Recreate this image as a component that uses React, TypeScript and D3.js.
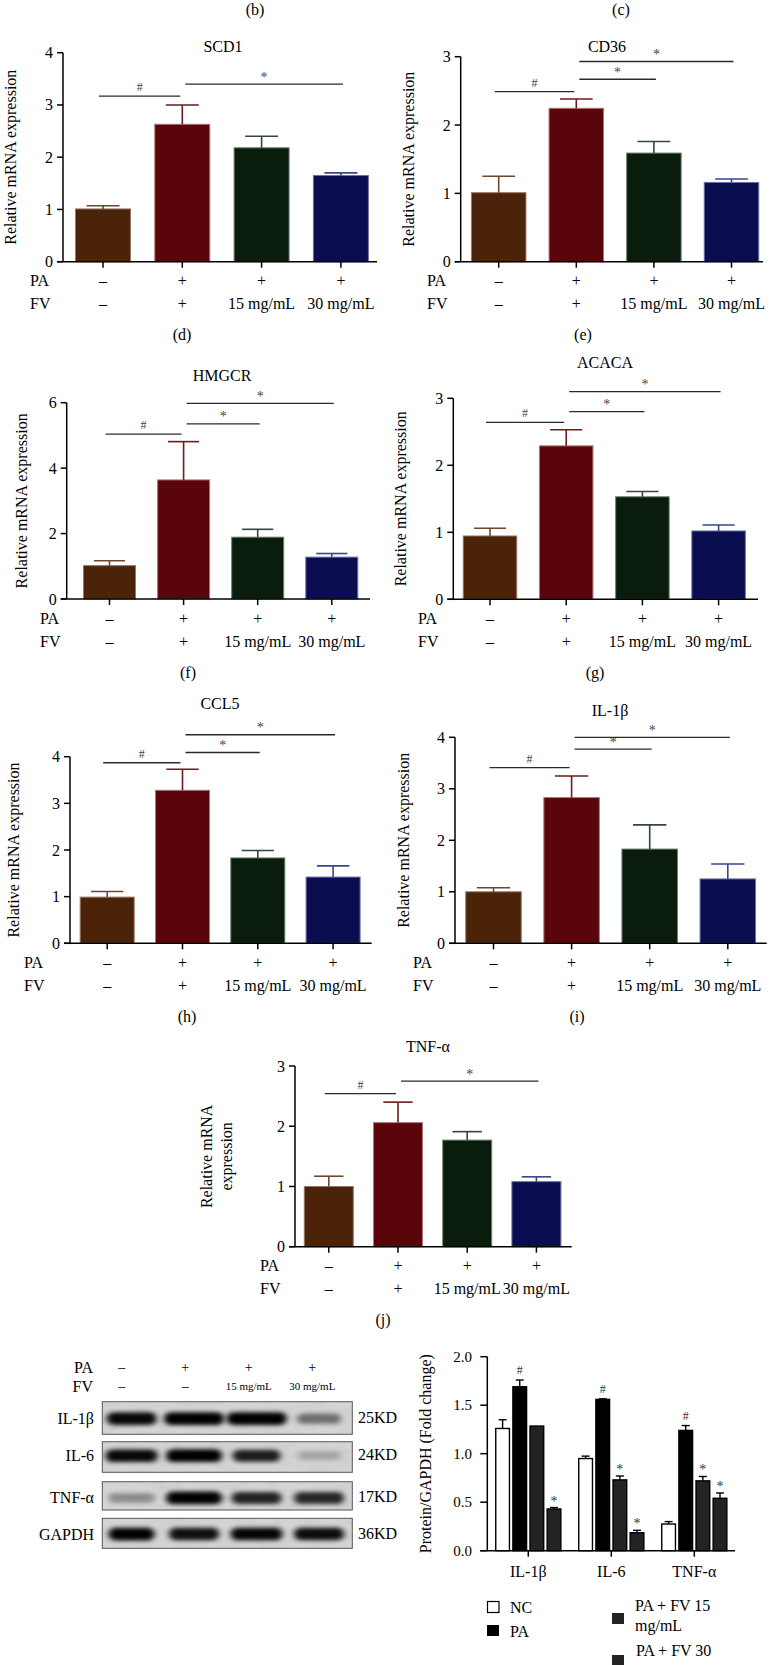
import React from 'react';
import * as d3 from 'd3';

const FONT = '"Liberation Serif", "Times New Roman", Times, serif';

// ---------- mRNA data ----------
const groups = ['NC', 'PA', 'PA+FV15', 'PA+FV30'];
const paRow = ['–', '+', '+', '+'];
const fvRow = ['–', '+', '15 mg/mL', '30 mg/mL'];

const scd1Mean = [1.01, 2.63, 2.18, 1.65];
const scd1Sem = [0.06, 0.37, 0.22, 0.05];
const cd36Mean = [1.01, 2.245, 1.59, 1.16];
const cd36Sem = [0.24, 0.135, 0.17, 0.05];
const hmgcrMean = [1.02, 3.64, 1.89, 1.28];
const hmgcrSem = [0.15, 1.17, 0.24, 0.11];
const acacaMean = [0.945, 2.29, 1.53, 1.02];
const acacaSem = [0.115, 0.24, 0.08, 0.09];
const ccl5Mean = [0.99, 3.28, 1.83, 1.42];
const ccl5Sem = [0.12, 0.45, 0.16, 0.24];
const il1bMean = [1.0, 2.83, 1.83, 1.25];
const il1bSem = [0.08, 0.42, 0.47, 0.29];
const tnfMean = [1.0, 2.06, 1.77, 1.08];
const tnfSem = [0.17, 0.34, 0.14, 0.08];

type Sig = { from: number; to: number; y: number; label: string };
const scd1Sig: Sig[] = [{ from: 0, to: 1, y: 3.17, label: '#' }, { from: 1, to: 3, y: 3.4, label: '*' }];
const cd36Sig: Sig[] = [{ from: 0, to: 1, y: 2.49, label: '#' }, { from: 1, to: 2, y: 2.67, label: '*' }, { from: 1, to: 3, y: 2.93, label: '*' }];
const hmgcrSig: Sig[] = [{ from: 0, to: 1, y: 5.04, label: '#' }, { from: 1, to: 2, y: 5.35, label: '*' }, { from: 1, to: 3, y: 5.98, label: '*' }];
const acacaSig: Sig[] = [{ from: 0, to: 1, y: 2.64, label: '#' }, { from: 1, to: 2, y: 2.8, label: '*' }, { from: 1, to: 3, y: 3.1, label: '*' }];
const ccl5Sig: Sig[] = [{ from: 0, to: 1, y: 3.87, label: '#' }, { from: 1, to: 2, y: 4.09, label: '*' }, { from: 1, to: 3, y: 4.47, label: '*' }];
const il1bSig: Sig[] = [{ from: 0, to: 1, y: 3.41, label: '#' }, { from: 1, to: 2, y: 3.77, label: '*' }, { from: 1, to: 3, y: 4.0, label: '*' }];
const tnfSig: Sig[] = [{ from: 0, to: 1, y: 2.54, label: '#' }, { from: 1, to: 3, y: 2.75, label: '*' }];

// ---------- Western blot data ----------
const wbProteins = ['IL-1β', 'IL-6', 'TNF-α', 'GAPDH'];
const wbSizes = ['25KD', '24KD', '17KD', '36KD'];
const wbLanePA = ['–', '+', '+', '+'];
const wbLaneFV = ['–', '–', '15 mg/mL', '30 mg/mL'];
const wbIntensity = [
  [0.92, 0.97, 0.95, 0.45],
  [0.92, 0.95, 0.82, 0.2],
  [0.32, 0.95, 0.8, 0.78],
  [0.95, 0.88, 0.93, 0.9],
];
const wbWidth = [
  [50, 60, 60, 44],
  [52, 56, 48, 42],
  [46, 56, 50, 50],
  [46, 50, 52, 50],
];

// ---------- Protein quantification ----------
const protCats = ['IL-1β', 'IL-6', 'TNF-α'];
const protSeries = ['NC', 'PA', 'PA + FV 15 mg/mL', 'PA + FV 30 mg/mL'];
const ncVals = [1.26, 0.95, 0.275];
const ncErr = [0.09, 0.025, 0.025];
const paVals = [1.69, 1.56, 1.24];
const paErr = [0.07, 0.006, 0.05];
const fv15Vals = [1.285, 0.73, 0.72];
const fv15Err = [0, 0.04, 0.045];
const fv30Vals = [0.43, 0.185, 0.54];
const fv30Err = [0.015, 0.025, 0.055];
const ncMarks = ['', '', ''];
const paMarks = ['#', '#', '#'];
const fv15Marks = ['', '*', '*'];
const fv30Marks = ['*', '*', '*'];
const protTicks = [0, 0.5, 1.0, 1.5, 2.0];

// ---------- styles ----------
const barFills = ['#4a2309', '#590509', '#0a1d0c', '#0a0d50'];
const barStrokes = ['#9a7564', '#b0767a', '#6c7f6e', '#6d72a4'];
const errColors = ['#6f4630', '#6e1a1e', '#33463a', '#3a4590'];
const protFills = ['#ffffff', '#000000', '#232323', '#232323'];

type Layout = {
  titleX: number; titleY: number; axisX: number; axisEnd: number; yTop: number; yBottom: number;
  c1: number; step: number; bw: number; ylabelX: number[]; rowX: number; letterX: number;
};
type Panel = { letter: string; title: string; mean: number[]; sem: number[]; sigs: Sig[]; yMax: number; ticks: number[]; L: Layout };

const panels: Panel[] = [
  { letter: '(d)', title: 'SCD1', mean: scd1Mean, sem: scd1Sem, sigs: scd1Sig, yMax: 4, ticks: [0, 1, 2, 3, 4],
    L: { titleX: 223, titleY: 46, axisX: 63, axisEnd: 377, yTop: 52.7, yBottom: 261.7, c1: 103, step: 79.3, bw: 55, ylabelX: [10], rowX: 30, letterX: 182 } },
  { letter: '(e)', title: 'CD36', mean: cd36Mean, sem: cd36Sem, sigs: cd36Sig, yMax: 3, ticks: [0, 1, 2, 3],
    L: { titleX: 607, titleY: 46, axisX: 460.7, axisEnd: 763, yTop: 56.7, yBottom: 261.7, c1: 498.7, step: 77.6, bw: 54.5, ylabelX: [408], rowX: 427, letterX: 583 } },
  { letter: '(f)', title: 'HMGCR', mean: hmgcrMean, sem: hmgcrSem, sigs: hmgcrSig, yMax: 6, ticks: [0, 2, 4, 6],
    L: { titleX: 222, titleY: 375, axisX: 66.7, axisEnd: 370, yTop: 402.7, yBottom: 599, c1: 109.5, step: 74.1, bw: 52, ylabelX: [21.7], rowX: 40, letterX: 188 } },
  { letter: '(g)', title: 'ACACA', mean: acacaMean, sem: acacaSem, sigs: acacaSig, yMax: 3, ticks: [0, 1, 2, 3],
    L: { titleX: 605, titleY: 362.7, axisX: 453.3, axisEnd: 758, yTop: 398.3, yBottom: 599.3, c1: 490, step: 76.2, bw: 53.5, ylabelX: [400], rowX: 418, letterX: 595 } },
  { letter: '(h)', title: 'CCL5', mean: ccl5Mean, sem: ccl5Sem, sigs: ccl5Sig, yMax: 4, ticks: [0, 1, 2, 3, 4],
    L: { titleX: 220, titleY: 703, axisX: 70, axisEnd: 371.7, yTop: 756.7, yBottom: 943.3, c1: 107.2, step: 75.3, bw: 54, ylabelX: [13], rowX: 24, letterX: 187 } },
  { letter: '(i)', title: 'IL-1β', mean: il1bMean, sem: il1bSem, sigs: il1bSig, yMax: 4, ticks: [0, 1, 2, 3, 4],
    L: { titleX: 610, titleY: 710, axisX: 455, axisEnd: 766.7, yTop: 737.3, yBottom: 943.3, c1: 493.5, step: 78.1, bw: 55.5, ylabelX: [403], rowX: 413, letterX: 577 } },
  { letter: '(j)', title: 'TNF-α', mean: tnfMean, sem: tnfSem, sigs: tnfSig, yMax: 3, ticks: [0, 1, 2, 3],
    L: { titleX: 428, titleY: 1046.7, axisX: 295, axisEnd: 571.7, yTop: 1066, yBottom: 1246.7, c1: 328.8, step: 69.2, bw: 49, ylabelX: [206.7, 226.7], rowX: 260, letterX: 383 } },
];

function MrnaPanel({ p }: { p: Panel }) {
  const L = p.L;
  const y = d3.scaleLinear().domain([0, p.yMax]).range([L.yBottom, L.yTop]);
  const pad = 1 - L.bw / L.step;
  const x = d3.scaleBand<string>().domain(groups)
    .range([L.c1 - L.step / 2, L.c1 + 3.5 * L.step]).paddingInner(pad).paddingOuter(pad / 2);
  const cx = (i: number) => (x(groups[i]) as number) + x.bandwidth() / 2;
  const bw = x.bandwidth();
  const cap = bw * 0.6;
  const midY = (L.yTop + L.yBottom) / 2;
  const ylabLines = L.ylabelX.length === 1 ? ['Relative mRNA expression'] : ['Relative mRNA', 'expression'];
  return (
    <g fontFamily={FONT}>
      <text x={L.titleX} y={L.titleY} textAnchor="middle" dominantBaseline="central" fontSize={16}>{p.title}</text>
      {ylabLines.map((t, k) => (
        <text key={k} transform={`translate(${L.ylabelX[k]},${midY}) rotate(-90)`} textAnchor="middle" dominantBaseline="central" fontSize={16}>{t}</text>
      ))}
      {groups.map((g, i) => (
        <rect key={g} x={x(g)} y={y(p.mean[i])} width={bw} height={L.yBottom - y(p.mean[i])}
          fill={barFills[i]} stroke={barStrokes[i]} strokeWidth={1} />
      ))}
      {groups.map((g, i) => {
        const top = y(p.mean[i] + p.sem[i]);
        return (
          <g key={g} stroke={errColors[i]} strokeWidth={1.6}>
            <line x1={cx(i)} x2={cx(i)} y1={y(p.mean[i])} y2={top} />
            <line x1={cx(i) - cap / 2} x2={cx(i) + cap / 2} y1={top} y2={top} />
          </g>
        );
      })}
      <line x1={L.axisX} x2={L.axisX} y1={L.yBottom} y2={L.yTop} stroke="#000" strokeWidth={1.5} />
      <line x1={L.axisX - 6} x2={L.axisEnd} y1={L.yBottom} y2={L.yBottom} stroke="#000" strokeWidth={1.5} />
      {p.ticks.map((t) => (
        <g key={t}>
          <line x1={L.axisX - 6} x2={L.axisX} y1={y(t)} y2={y(t)} stroke="#000" strokeWidth={1.5} />
          <text x={L.axisX - 10} y={y(t)} textAnchor="end" dominantBaseline="central" fontSize={16}>{t}</text>
        </g>
      ))}
      {groups.map((g, i) => (
        <line key={g} x1={cx(i)} x2={cx(i)} y1={L.yBottom} y2={L.yBottom + 6} stroke="#000" strokeWidth={1.5} />
      ))}
      {p.sigs.map((s, k) => {
        const x1 = cx(s.from) - (s.from === 0 ? 4 : -3);
        const x2 = cx(s.to) + (s.to === 1 ? -2 : 2);
        const yy = y(s.y);
        return (
          <g key={k}>
            <line x1={x1} x2={x2} y1={yy} y2={yy} stroke="#2a2a2a" strokeWidth={1.3} />
            <text x={(x1 + x2) / 2} y={s.label === '#' ? yy - 5 : yy - 2.5} textAnchor="middle"
              fontSize={s.label === '#' ? 12 : 14} fill="#444">{s.label}</text>
          </g>
        );
      })}
      <text x={L.rowX} y={L.yBottom + 19} dominantBaseline="central" fontSize={16}>PA</text>
      <text x={L.rowX} y={L.yBottom + 42} dominantBaseline="central" fontSize={16}>FV</text>
      {groups.map((g, i) => (
        <g key={g}>
          <text x={cx(i)} y={L.yBottom + 19} textAnchor="middle" dominantBaseline="central" fontSize={16}>{paRow[i]}</text>
          <text x={cx(i)} y={L.yBottom + 42} textAnchor="middle" dominantBaseline="central" fontSize={16}>{fvRow[i]}</text>
        </g>
      ))}
      <text x={L.letterX} y={L.yBottom + 73} textAnchor="middle" dominantBaseline="central" fontSize={16}>{p.letter}</text>
    </g>
  );
}

function WesternBlot() {
  const boxX0 = 102.3, boxX1 = 352.3;
  const boxTop = [1401.7, 1441.7, 1481.7, 1518.3];
  const boxH = [32.6, 30.6, 28.3, 30];
  const bandDy = [0.6, -1.3, 2.1, 0.7];
  const lanes = d3.scaleBand<number>().domain([0, 1, 2, 3]).range([boxX0, boxX1]);
  const labelX = d3.scalePoint<number>().domain([0, 1, 2, 3]).range([121.7, 312.3]);
  return (
    <g fontFamily={FONT}>
      <defs>
        <filter id="bandBlur" x="-50%" y="-150%" width="200%" height="400%">
          <feGaussianBlur stdDeviation="3 2" />
        </filter>
        <filter id="noise" x="0" y="0" width="100%" height="100%">
          <feTurbulence type="fractalNoise" baseFrequency="0.06 0.12" numOctaves={2} seed={7} />
          <feColorMatrix type="saturate" values="0" />
        </filter>
        {boxTop.map((t, r) => (
          <clipPath id={`clip${r}`} key={r}>
            <rect x={boxX0} y={t} width={boxX1 - boxX0} height={boxH[r]} />
          </clipPath>
        ))}
      </defs>
      <text x={93} y={1367} textAnchor="end" dominantBaseline="central" fontSize={16}>PA</text>
      <text x={93} y={1386} textAnchor="end" dominantBaseline="central" fontSize={16}>FV</text>
      {wbLanePA.map((s, i) => (
        <text key={'pa' + i} x={labelX(i)} y={1367} textAnchor="middle" dominantBaseline="central" fontSize={14}>{s}</text>
      ))}
      {wbLaneFV.map((s, i) => (
        <text key={'fv' + i} x={labelX(i)} y={1386} textAnchor="middle" dominantBaseline="central" fontSize={s.length > 2 ? 11 : 14}>{s}</text>
      ))}
      {wbProteins.map((prot, r) => {
        const cy = boxTop[r] + boxH[r] / 2 + bandDy[r];
        return (
          <g key={prot}>
            <g clipPath={`url(#clip${r})`}>
              <rect x={boxX0} y={boxTop[r]} width={boxX1 - boxX0} height={boxH[r]} fill="#d5d5d5" />
              <rect x={boxX0} y={boxTop[r]} width={boxX1 - boxX0} height={boxH[r]} filter="url(#noise)" opacity={0.18} />
              {wbIntensity[r].map((v, i) => {
                const c = (lanes(i) as number) + lanes.bandwidth() / 2 - 2;
                const w = wbWidth[r][i];
                const h = 8 + 5 * v;
                return (
                  <rect key={i} x={c - w / 2} y={cy - h / 2} width={w} height={h} rx={h / 2}
                    fill="#050505" opacity={Math.min(1, v * 1.05)} filter="url(#bandBlur)" />
                );
              })}
            </g>
            <rect x={boxX0} y={boxTop[r]} width={boxX1 - boxX0} height={boxH[r]} fill="none" stroke="#555" strokeWidth={1} />
            <text x={94} y={cy} textAnchor="end" dominantBaseline="central" fontSize={16}>{prot}</text>
            <text x={358} y={cy - 1} dominantBaseline="central" fontSize={16}>{wbSizes[r]}</text>
          </g>
        );
      })}
    </g>
  );
}

function ProteinChart() {
  const axisX = 487.3, axisEnd = 735, yTop = 1356.7, yBottom = 1550.7;
  const y = d3.scaleLinear().domain([0, 2]).range([yBottom, yTop]);
  const x0 = d3.scaleBand<string>().domain(protCats).range([486.8, 735.8]).paddingInner(0.133).paddingOuter(0.0665);
  const x1 = d3.scaleBand<string>().domain(protSeries).range([0, x0.bandwidth()]).padding(0.2);
  const vals = [ncVals, paVals, fv15Vals, fv30Vals];
  const errs = [ncErr, paErr, fv15Err, fv30Err];
  const marks = [ncMarks, paMarks, fv15Marks, fv30Marks];
  const bw = x1.bandwidth();
  return (
    <g fontFamily={FONT}>
      <text transform={`translate(425,${(yTop + yBottom) / 2}) rotate(-90)`} textAnchor="middle" dominantBaseline="central" fontSize={16}>Protein/GAPDH (Fold change)</text>
      {protCats.map((cat, ci) => (
        <g key={cat}>
          {protSeries.map((s, si) => {
            const bx = (x0(cat) as number) + (x1(s) as number);
            const v = vals[si][ci];
            const e = errs[si][ci];
            const top = y(v + e);
            const cx = bx + bw / 2;
            return (
              <g key={s}>
                <rect x={bx} y={y(v)} width={bw} height={yBottom - y(v)} fill={protFills[si]} stroke="#000" strokeWidth={1.4} />
                {e > 0 && (
                  <g stroke="#000" strokeWidth={1.4}>
                    <line x1={cx} x2={cx} y1={y(v)} y2={top} />
                    <line x1={cx - 4} x2={cx + 4} y1={top} y2={top} />
                  </g>
                )}
                {marks[si][ci] && (
                  <text x={cx} y={marks[si][ci] === '#' ? top - 6 : top - 2} textAnchor="middle" fontSize={marks[si][ci] === '#' ? 12 : 14} fill="#333">{marks[si][ci]}</text>
                )}
              </g>
            );
          })}
        </g>
      ))}
      <line x1={axisX} x2={axisX} y1={yBottom} y2={yTop} stroke="#000" strokeWidth={1.5} />
      <line x1={axisX - 7} x2={axisEnd} y1={yBottom} y2={yBottom} stroke="#000" strokeWidth={1.5} />
      {protTicks.map((t) => (
        <g key={t}>
          <line x1={axisX - 7} x2={axisX} y1={y(t)} y2={y(t)} stroke="#000" strokeWidth={1.5} />
          <text x={472} y={y(t)} textAnchor="end" dominantBaseline="central" fontSize={15}>{t.toFixed(1)}</text>
        </g>
      ))}
      {protCats.map((cat) => {
        const c = (x0(cat) as number) + x0.bandwidth() / 2;
        return (
          <g key={cat}>
            <line x1={c} x2={c} y1={yBottom} y2={yBottom + 6} stroke="#000" strokeWidth={1.5} />
            <text x={c} y={1571.7} textAnchor="middle" dominantBaseline="central" fontSize={16}>{cat}</text>
          </g>
        );
      })}
      <rect x={487.5} y={1601.5} width={11.5} height={11} fill="#fff" stroke="#000" strokeWidth={1.2} />
      <text x={510} y={1607} dominantBaseline="central" fontSize={16}>{protSeries[0]}</text>
      <rect x={487} y={1625} width={12} height={11} fill={protFills[1]} />
      <text x={510} y={1631} dominantBaseline="central" fontSize={16}>{protSeries[1]}</text>
      <rect x={612} y={1613} width={12} height={11} fill={protFills[2]} />
      <text x={635} y={1605} dominantBaseline="central" fontSize={16}>PA + FV 15</text>
      <text x={635} y={1625} dominantBaseline="central" fontSize={16}>mg/mL</text>
      <rect x={612} y={1655} width={12} height={11} fill={protFills[3]} />
      <text x={636} y={1650} dominantBaseline="central" fontSize={16}>PA + FV 30</text>
      <text x={636} y={1670} dominantBaseline="central" fontSize={16}>mg/mL</text>
    </g>
  );
}

export default function App() {
  return (
    <svg width={772} height={1665} viewBox="0 0 772 1665"
      style={{ position: 'absolute', left: 0, top: 0, background: '#fff', overflow: 'hidden' }}>
      <rect x={0} y={0} width={772} height={1665} fill="#fff" />
      <text x={255} y={9} textAnchor="middle" dominantBaseline="central" fontSize={16} fontFamily={FONT}>(b)</text>
      <text x={621} y={9} textAnchor="middle" dominantBaseline="central" fontSize={16} fontFamily={FONT}>(c)</text>
      {panels.map((p) => <MrnaPanel key={p.letter} p={p} />)}
      <WesternBlot />
      <ProteinChart />
    </svg>
  );
}
